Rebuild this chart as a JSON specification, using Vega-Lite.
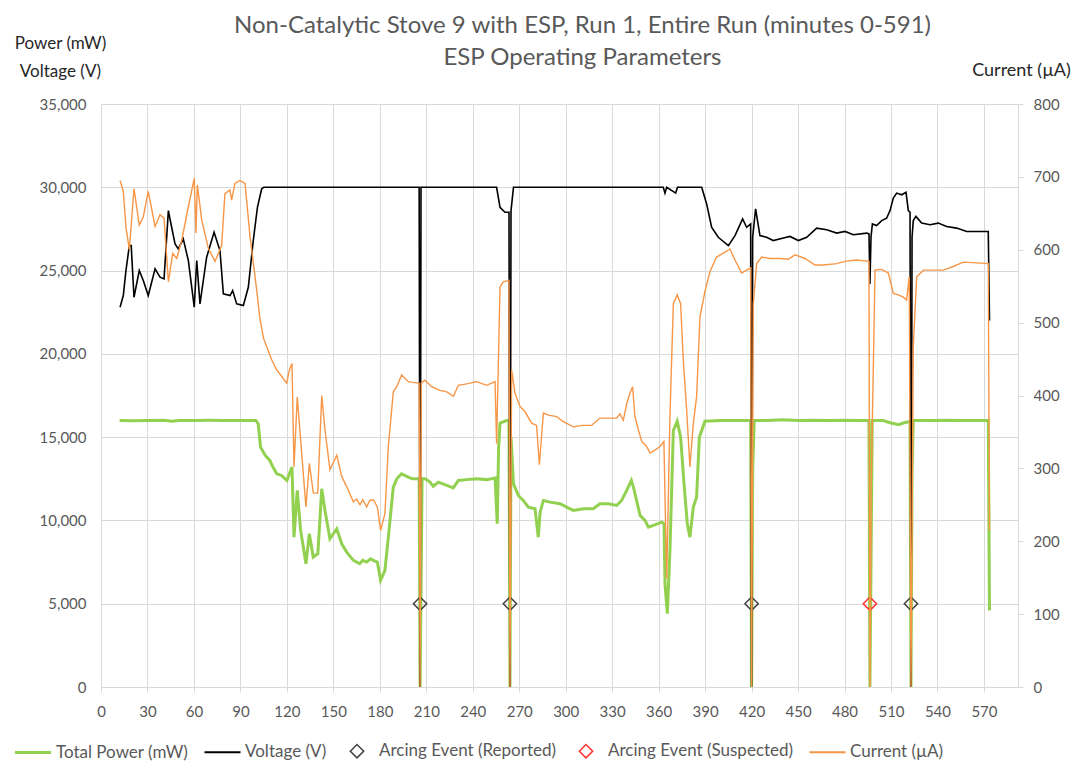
{
  "$schema": "https://vega.github.io/schema/vega-lite/v6.json",
  "width": 917,
  "height": 583,
  "autosize": {"type": "none"},
  "padding": {"left": 101, "top": 104, "right": 59, "bottom": 91},
  "background": "white",
  "config": {
    "font": "Lato",
    "view": {"stroke": null},
    "axis": {"labelFont": "Lato", "labelFontSize": 15, "labelColor": "#595959", "titleFont": "Lato"},
    "legend": {"labelFont": "Lato", "symbolSize": 1300}
  },
  "title": {
    "text": ["Non-Catalytic Stove 9 with ESP, Run 1, Entire Run (minutes 0-591)", "ESP Operating Parameters"],
    "anchor": "middle",
    "frame": "group",
    "fontSize": 24,
    "fontWeight": "normal",
    "color": "#595959",
    "lineHeight": 32,
    "dx": 23,
    "dy": 46,
    "offset": 10
  },
  "datasets": {
    "power": [
      {"minute": 12, "value": 16000}, {"minute": 20, "value": 15990}, {"minute": 30, "value": 16000}, {"minute": 40, "value": 16010}, {"minute": 46, "value": 15950}, {"minute": 50, "value": 16000}, {"minute": 60, "value": 16000}, {"minute": 70, "value": 16010}, {"minute": 80, "value": 16000}, {"minute": 90, "value": 16000}, {"minute": 100, "value": 16000},
      {"minute": 101.5, "value": 15800}, {"minute": 103, "value": 14400}, {"minute": 106, "value": 13900}, {"minute": 109, "value": 13600}, {"minute": 111, "value": 13200}, {"minute": 113.5, "value": 12800}, {"minute": 116.5, "value": 12700}, {"minute": 120, "value": 12400}, {"minute": 122, "value": 12900}, {"minute": 123.3, "value": 13200}, {"minute": 124.6, "value": 9000}, {"minute": 126.7, "value": 11800}, {"minute": 128.9, "value": 9400}, {"minute": 132.3, "value": 7400}, {"minute": 134.5, "value": 9200}, {"minute": 137, "value": 7800}, {"minute": 140, "value": 8000}, {"minute": 142.5, "value": 11900}, {"minute": 144.6, "value": 10600}, {"minute": 147.8, "value": 8900}, {"minute": 152.2, "value": 9500}, {"minute": 155.4, "value": 8600}, {"minute": 158.6, "value": 8100}, {"minute": 163, "value": 7600}, {"minute": 167, "value": 7400}, {"minute": 169, "value": 7600}, {"minute": 171.5, "value": 7500}, {"minute": 174, "value": 7700}, {"minute": 175.8, "value": 7600}, {"minute": 178.4, "value": 7500}, {"minute": 180.5, "value": 6400}, {"minute": 183.3, "value": 7000}, {"minute": 185.5, "value": 9000}, {"minute": 188.7, "value": 12000}, {"minute": 191, "value": 12500}, {"minute": 194, "value": 12800}, {"minute": 198.4, "value": 12600}, {"minute": 201, "value": 12500}, {"minute": 205.4, "value": 12500},
      {"minute": 206, "value": 0}, {"minute": 206.6, "value": 6000}, {"minute": 207.3, "value": 12500}, {"minute": 209.2, "value": 12500}, {"minute": 212.4, "value": 12300}, {"minute": 214.5, "value": 12050}, {"minute": 217.8, "value": 12300}, {"minute": 222, "value": 12150}, {"minute": 227.4, "value": 11950}, {"minute": 230.7, "value": 12400}, {"minute": 236, "value": 12450}, {"minute": 242.5, "value": 12500}, {"minute": 249, "value": 12450}, {"minute": 254.4, "value": 12550}, {"minute": 255.8, "value": 9800}, {"minute": 256.7, "value": 14400}, {"minute": 257.6, "value": 15850}, {"minute": 261.9, "value": 16000}, {"minute": 263.4, "value": 16000},
      {"minute": 264, "value": 0}, {"minute": 264.7, "value": 15000}, {"minute": 266.3, "value": 12200}, {"minute": 269.4, "value": 11500}, {"minute": 272.6, "value": 11200}, {"minute": 275.9, "value": 10800}, {"minute": 280.2, "value": 10700}, {"minute": 282.3, "value": 9000}, {"minute": 283.5, "value": 10500}, {"minute": 285.6, "value": 11200}, {"minute": 289.9, "value": 11100}, {"minute": 296.3, "value": 11000}, {"minute": 300.6, "value": 10800}, {"minute": 304.9, "value": 10600}, {"minute": 311.4, "value": 10700}, {"minute": 317.8, "value": 10700}, {"minute": 322.1, "value": 11000}, {"minute": 327.5, "value": 11000}, {"minute": 332.9, "value": 10900}, {"minute": 336.1, "value": 11200}, {"minute": 339.4, "value": 11800}, {"minute": 342.4, "value": 12400}, {"minute": 344, "value": 11900}, {"minute": 348, "value": 10300}, {"minute": 351.2, "value": 10000}, {"minute": 353.4, "value": 9600}, {"minute": 356.6, "value": 9700}, {"minute": 362, "value": 9900}, {"minute": 363.5, "value": 9800}, {"minute": 364.1, "value": 6200}, {"minute": 365.6, "value": 4400}, {"minute": 367.3, "value": 8200}, {"minute": 369.5, "value": 15400}, {"minute": 372, "value": 15950}, {"minute": 374.2, "value": 15000}, {"minute": 376.4, "value": 12200}, {"minute": 378.5, "value": 9800}, {"minute": 380.2, "value": 9000}, {"minute": 382.4, "value": 10800}, {"minute": 384.5, "value": 11400}, {"minute": 386.3, "value": 15000}, {"minute": 389.9, "value": 15950}, {"minute": 400, "value": 16000}, {"minute": 410, "value": 16000}, {"minute": 419.4, "value": 16000},
      {"minute": 420, "value": 0}, {"minute": 420.7, "value": 13000}, {"minute": 421.7, "value": 16000}, {"minute": 430, "value": 16000}, {"minute": 440, "value": 16050}, {"minute": 450, "value": 16000}, {"minute": 460, "value": 16020}, {"minute": 470, "value": 16000}, {"minute": 480, "value": 16020}, {"minute": 490, "value": 16000}, {"minute": 495.8, "value": 16000},
      {"minute": 496.4, "value": 0}, {"minute": 497.1, "value": 7300}, {"minute": 497.9, "value": 16000}, {"minute": 505, "value": 16000}, {"minute": 510, "value": 15850}, {"minute": 515, "value": 15750}, {"minute": 518, "value": 15850}, {"minute": 522.3, "value": 15950},
      {"minute": 522.9, "value": 0}, {"minute": 523.6, "value": 13000}, {"minute": 524.4, "value": 16000}, {"minute": 535, "value": 16000}, {"minute": 545, "value": 16020}, {"minute": 555, "value": 16000}, {"minute": 565, "value": 16000}, {"minute": 572.8, "value": 16000}, {"minute": 573.6, "value": 4600}
    ],
    "voltage": [
      {"minute": 12.3, "value": 22800}, {"minute": 14.4, "value": 23500}, {"minute": 16.1, "value": 25000}, {"minute": 18.3, "value": 26500}, {"minute": 19.5, "value": 26500}, {"minute": 21.3, "value": 23400}, {"minute": 24.7, "value": 25000}, {"minute": 27.3, "value": 24400}, {"minute": 30.5, "value": 23500}, {"minute": 34.9, "value": 25100}, {"minute": 38.1, "value": 24600}, {"minute": 40.7, "value": 24500}, {"minute": 43.5, "value": 28600}, {"minute": 45.6, "value": 27600}, {"minute": 47.8, "value": 26600}, {"minute": 49.9, "value": 26300}, {"minute": 53.1, "value": 26900}, {"minute": 56.4, "value": 25600}, {"minute": 60.2, "value": 22800}, {"minute": 61.8, "value": 25600}, {"minute": 63.9, "value": 23000}, {"minute": 68.2, "value": 25800}, {"minute": 73, "value": 27300}, {"minute": 76.8, "value": 26200}, {"minute": 79, "value": 23600}, {"minute": 83.3, "value": 23500}, {"minute": 85, "value": 23800}, {"minute": 87.6, "value": 23000}, {"minute": 91.9, "value": 22900}, {"minute": 95.1, "value": 24000}, {"minute": 98.3, "value": 26800}, {"minute": 101, "value": 28800}, {"minute": 103.7, "value": 29900}, {"minute": 105, "value": 30000}, {"minute": 150, "value": 30000}, {"minute": 205.4, "value": 30000},
      {"minute": 206, "value": 0}, {"minute": 206.6, "value": 30000}, {"minute": 255.4, "value": 30000}, {"minute": 257.6, "value": 28800}, {"minute": 260.8, "value": 28500}, {"minute": 263.4, "value": 28500},
      {"minute": 264, "value": 0}, {"minute": 264.7, "value": 28600}, {"minute": 266.3, "value": 30000}, {"minute": 363, "value": 30000}, {"minute": 364.1, "value": 29650}, {"minute": 365.2, "value": 30000}, {"minute": 371, "value": 29650}, {"minute": 372.2, "value": 30000}, {"minute": 387.8, "value": 30000}, {"minute": 391, "value": 29000}, {"minute": 394.2, "value": 27600}, {"minute": 398.5, "value": 27000}, {"minute": 405, "value": 26500}, {"minute": 409.3, "value": 27100}, {"minute": 414.2, "value": 28100}, {"minute": 416.8, "value": 27600}, {"minute": 419.4, "value": 27800},
      {"minute": 420, "value": 0}, {"minute": 420.7, "value": 27000}, {"minute": 422.6, "value": 28700}, {"minute": 425.4, "value": 27100}, {"minute": 429.7, "value": 27000}, {"minute": 434, "value": 26800}, {"minute": 440.5, "value": 26950}, {"minute": 444.8, "value": 27050}, {"minute": 450.2, "value": 26800}, {"minute": 455.6, "value": 27000}, {"minute": 462, "value": 27550}, {"minute": 468.5, "value": 27450}, {"minute": 475, "value": 27250}, {"minute": 480.3, "value": 27350}, {"minute": 485.7, "value": 27150}, {"minute": 494.3, "value": 27250}, {"minute": 495.8, "value": 27200},
      {"minute": 496.4, "value": 24200}, {"minute": 497.1, "value": 27000}, {"minute": 498, "value": 27800}, {"minute": 500.7, "value": 27700}, {"minute": 504, "value": 28000}, {"minute": 507.2, "value": 28150}, {"minute": 509.4, "value": 28600}, {"minute": 511.5, "value": 29350}, {"minute": 513.7, "value": 29650}, {"minute": 516.9, "value": 29550}, {"minute": 519.7, "value": 29700}, {"minute": 521.2, "value": 28600}, {"minute": 522.3, "value": 28500},
      {"minute": 522.9, "value": 0}, {"minute": 523.6, "value": 27000}, {"minute": 524.4, "value": 28000}, {"minute": 526.1, "value": 28250}, {"minute": 529.8, "value": 27850}, {"minute": 535.2, "value": 27750}, {"minute": 540.5, "value": 27850}, {"minute": 545.9, "value": 27650}, {"minute": 552.4, "value": 27550}, {"minute": 558.9, "value": 27350}, {"minute": 565.3, "value": 27350}, {"minute": 572.8, "value": 27350}, {"minute": 573.6, "value": 22000}
    ],
    "current": [
      {"minute": 12.3, "value": 695}, {"minute": 14.4, "value": 680}, {"minute": 16.1, "value": 631}, {"minute": 18.3, "value": 600}, {"minute": 21.3, "value": 684}, {"minute": 24.7, "value": 634}, {"minute": 27.3, "value": 645}, {"minute": 30.5, "value": 680}, {"minute": 34.9, "value": 632}, {"minute": 38.1, "value": 648}, {"minute": 40.7, "value": 643}, {"minute": 43.5, "value": 556}, {"minute": 46.3, "value": 595}, {"minute": 48.9, "value": 588}, {"minute": 52.1, "value": 613}, {"minute": 56.4, "value": 659}, {"minute": 60.2, "value": 698}, {"minute": 61.3, "value": 623}, {"minute": 62.2, "value": 689}, {"minute": 65, "value": 641}, {"minute": 69.3, "value": 602}, {"minute": 73.6, "value": 584}, {"minute": 77.9, "value": 606}, {"minute": 80, "value": 677}, {"minute": 83.3, "value": 682}, {"minute": 84.3, "value": 668}, {"minute": 86.5, "value": 691}, {"minute": 89.7, "value": 695}, {"minute": 93, "value": 691}, {"minute": 96.2, "value": 618}, {"minute": 100.5, "value": 545}, {"minute": 102.6, "value": 505}, {"minute": 105, "value": 478}, {"minute": 107, "value": 467}, {"minute": 110.2, "value": 449}, {"minute": 113.4, "value": 435}, {"minute": 116.7, "value": 426}, {"minute": 119.9, "value": 417}, {"minute": 121.6, "value": 435}, {"minute": 123.3, "value": 444}, {"minute": 124.6, "value": 302}, {"minute": 126.7, "value": 398}, {"minute": 128.9, "value": 339}, {"minute": 132.3, "value": 247}, {"minute": 134.5, "value": 307}, {"minute": 137.1, "value": 266}, {"minute": 139.9, "value": 266}, {"minute": 142.5, "value": 400}, {"minute": 144.6, "value": 353}, {"minute": 147.8, "value": 298}, {"minute": 152.2, "value": 318}, {"minute": 155.4, "value": 289}, {"minute": 158.6, "value": 275}, {"minute": 162.9, "value": 254}, {"minute": 165, "value": 258}, {"minute": 167.2, "value": 250}, {"minute": 169, "value": 257}, {"minute": 171.5, "value": 247}, {"minute": 173.5, "value": 256}, {"minute": 175.8, "value": 257}, {"minute": 178.4, "value": 247}, {"minute": 180.5, "value": 215}, {"minute": 183.3, "value": 238}, {"minute": 185.5, "value": 330}, {"minute": 188.7, "value": 405}, {"minute": 190.9, "value": 412}, {"minute": 194.1, "value": 428}, {"minute": 198.4, "value": 419}, {"minute": 201, "value": 418}, {"minute": 205.4, "value": 417},
      {"minute": 206, "value": 0}, {"minute": 206.8, "value": 417}, {"minute": 209, "value": 421}, {"minute": 213.5, "value": 412}, {"minute": 218.9, "value": 407}, {"minute": 223.2, "value": 405}, {"minute": 227.5, "value": 399}, {"minute": 230.7, "value": 414}, {"minute": 236.1, "value": 416}, {"minute": 242.5, "value": 419}, {"minute": 249, "value": 414}, {"minute": 254.4, "value": 419}, {"minute": 255.4, "value": 334}, {"minute": 257.6, "value": 549}, {"minute": 259.7, "value": 556}, {"minute": 263.4, "value": 558},
      {"minute": 264, "value": 0}, {"minute": 265.1, "value": 435}, {"minute": 267.3, "value": 403}, {"minute": 270.5, "value": 385}, {"minute": 273.7, "value": 378}, {"minute": 278, "value": 362}, {"minute": 281.2, "value": 359}, {"minute": 283, "value": 305}, {"minute": 285.6, "value": 376}, {"minute": 288.8, "value": 373}, {"minute": 294.2, "value": 371}, {"minute": 298.5, "value": 364}, {"minute": 305, "value": 357}, {"minute": 310.3, "value": 359}, {"minute": 316.8, "value": 359}, {"minute": 322.1, "value": 369}, {"minute": 327.5, "value": 369}, {"minute": 332.9, "value": 369}, {"minute": 335, "value": 375}, {"minute": 337.2, "value": 366}, {"minute": 339.4, "value": 389}, {"minute": 341.5, "value": 403}, {"minute": 343.2, "value": 412}, {"minute": 344.7, "value": 371}, {"minute": 346.9, "value": 353}, {"minute": 349.1, "value": 337}, {"minute": 352.3, "value": 330}, {"minute": 354.4, "value": 321}, {"minute": 357.6, "value": 325}, {"minute": 360.9, "value": 330}, {"minute": 363.4, "value": 337}, {"minute": 365.2, "value": 149}, {"minute": 367.3, "value": 371}, {"minute": 369.5, "value": 526}, {"minute": 372, "value": 538}, {"minute": 374.2, "value": 526}, {"minute": 375.9, "value": 449}, {"minute": 378.1, "value": 380}, {"minute": 380.2, "value": 302}, {"minute": 382.4, "value": 362}, {"minute": 384.5, "value": 398}, {"minute": 386.7, "value": 508}, {"minute": 389.9, "value": 543}, {"minute": 393.1, "value": 570}, {"minute": 397.4, "value": 590}, {"minute": 403.9, "value": 598}, {"minute": 406, "value": 601}, {"minute": 409.3, "value": 586}, {"minute": 413.6, "value": 568}, {"minute": 416.8, "value": 572}, {"minute": 419.4, "value": 575},
      {"minute": 420, "value": 0}, {"minute": 421.1, "value": 526}, {"minute": 423.3, "value": 581}, {"minute": 426.5, "value": 590}, {"minute": 431.9, "value": 588}, {"minute": 438.3, "value": 588}, {"minute": 443.7, "value": 587}, {"minute": 448, "value": 593}, {"minute": 454.5, "value": 588}, {"minute": 460.9, "value": 579}, {"minute": 466.3, "value": 579}, {"minute": 475, "value": 581}, {"minute": 480.3, "value": 584}, {"minute": 487.9, "value": 586}, {"minute": 495.8, "value": 584},
      {"minute": 496.4, "value": 0}, {"minute": 497.3, "value": 284}, {"minute": 499.7, "value": 572}, {"minute": 504, "value": 573}, {"minute": 508.3, "value": 568}, {"minute": 511.5, "value": 540}, {"minute": 514.7, "value": 538}, {"minute": 518, "value": 535}, {"minute": 520.1, "value": 531}, {"minute": 521.8, "value": 563},
      {"minute": 522.9, "value": 0}, {"minute": 524.4, "value": 467}, {"minute": 526.6, "value": 563}, {"minute": 530.9, "value": 572}, {"minute": 537.3, "value": 572}, {"minute": 543.8, "value": 572}, {"minute": 550.2, "value": 577}, {"minute": 556.7, "value": 583}, {"minute": 565.3, "value": 582}, {"minute": 572.8, "value": 581}, {"minute": 573.6, "value": 215}
    ],
    "events": [
      {"minute": 206, "value": 5000, "series": "Arcing Event (Reported)"},
      {"minute": 264, "value": 5000, "series": "Arcing Event (Reported)"},
      {"minute": 420, "value": 5000, "series": "Arcing Event (Reported)"},
      {"minute": 496.4, "value": 5000, "series": "Arcing Event (Suspected)"},
      {"minute": 522.9, "value": 5000, "series": "Arcing Event (Reported)"}
    ]
  },
  "encoding": {
    "x": {
      "field": "minute",
      "type": "quantitative",
      "scale": {"domain": [0, 592], "nice": false, "zero": false},
      "axis": {
        "title": null,
        "values": [0, 30, 60, 90, 120, 150, 180, 210, 240, 270, 300, 330, 360, 390, 420, 450, 480, 510, 540, 570],
        "grid": true,
        "gridColor": "#D9D9D9",
        "gridWidth": 1,
        "domainColor": "#D9D9D9",
        "tickColor": "#D9D9D9",
        "tickSize": 5,
        "labelPadding": 12,
        "labelFlush": false,
        "labelFontSize": 15
      }
    }
  },
  "layer": [
    {
      "encoding": {
        "y": {
          "field": "value",
          "type": "quantitative",
          "scale": {"domain": [0, 35000], "nice": false},
          "axis": {
            "values": [0, 5000, 10000, 15000, 20000, 25000, 30000, 35000],
            "format": ",d",
            "grid": true,
            "gridColor": "#D9D9D9",
            "domain": false,
            "ticks": false,
            "labelPadding": 15,
            "labelFontSize": 15,
            "title": ["Power (mW)", "Voltage (V)"],
            "titleAngle": 0,
            "titleAlign": "center",
            "titleBaseline": "middle",
            "titleX": -41,
            "titleY": -61,
            "titleLineHeight": 28,
            "titleFontSize": 17,
            "titleFontWeight": "normal",
            "titleColor": "#262626"
          }
        }
      },
      "layer": [
        {
          "data": {"name": "power"},
          "mark": {"type": "line", "strokeWidth": 3, "interpolate": "linear"},
          "encoding": {
            "color": {
              "datum": "Total Power (mW)",
              "type": "nominal",
              "scale": {
                "domain": ["Total Power (mW)", "Voltage (V)", "Arcing Event (Reported)", "Arcing Event (Suspected)", "Current (µA)"],
                "range": ["#92D050", "#000000", "#404040", "#FF3030", "#F79646"]
              },
              "legend": {
                "title": null,
                "orient": "none",
                "direction": "horizontal",
                "legendX": -88,
                "legendY": 628,
                "labelFontSize": 17,
                "labelColor": "#595959",
                "labelLimit": 400,
                "columnPadding": 11,
                "labelOffset": 3,
                "symbolSize": 1300,
                "symbolStrokeWidth": 2
              }
            }
          }
        },
        {
          "data": {"name": "voltage"},
          "mark": {"type": "line", "strokeWidth": 1.6},
          "encoding": {"color": {"datum": "Voltage (V)", "type": "nominal"}}
        },
        {
          "data": {"name": "events"},
          "mark": {"type": "point", "filled": false, "opacity": 1, "size": 1300},
          "encoding": {
            "color": {"field": "series", "type": "nominal"},
            "shape": {
              "field": "series",
              "type": "nominal",
              "scale": {
                "domain": ["Total Power (mW)", "Voltage (V)", "Arcing Event (Reported)", "Arcing Event (Suspected)", "Current (µA)"],
                "range": ["stroke", "stroke", "M-0.37,0L0,-0.37L0.37,0L0,0.37Z", "M-0.37,0L0,-0.37L0.37,0L0,0.37Z", "stroke"]
              },
              "legend": {"title": null, "orient": "none", "labelLimit": 400}
            },
            "strokeWidth": {
              "field": "series",
              "type": "nominal",
              "scale": {
                "type": "ordinal",
                "domain": ["Total Power (mW)", "Voltage (V)", "Arcing Event (Reported)", "Arcing Event (Suspected)", "Current (µA)"],
                "range": [3, 2, 1.5, 1.5, 2]
              },
              "legend": {"title": null, "orient": "none", "labelLimit": 400}
            }
          }
        }
      ]
    },
    {
      "data": {"name": "current"},
      "mark": {"type": "line", "strokeWidth": 1.4},
      "encoding": {
        "color": {"datum": "Current (µA)", "type": "nominal"},
        "y": {
          "field": "value",
          "type": "quantitative",
          "scale": {"domain": [0, 800], "nice": false},
          "axis": {
            "orient": "right",
            "values": [0, 100, 200, 300, 400, 500, 600, 700, 800],
            "grid": false,
            "domain": true,
            "domainColor": "#D9D9D9",
            "ticks": true,
            "tickColor": "#D9D9D9",
            "tickSize": 5,
            "labelPadding": 10,
            "labelFontSize": 15,
            "title": "Current (µA)",
            "titleAngle": 0,
            "titleAlign": "center",
            "titleBaseline": "middle",
            "titleX": 3,
            "titleY": -34,
            "titleFontSize": 18,
            "titleFontWeight": "normal",
            "titleColor": "#262626"
          }
        }
      }
    }
  ],
  "resolve": {"scale": {"y": "independent"}}
}
